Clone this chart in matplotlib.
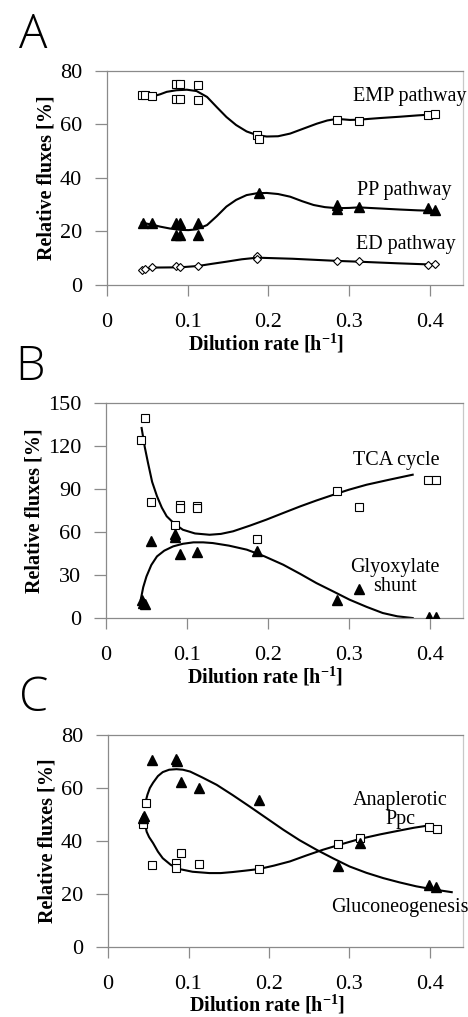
import matplotlib
matplotlib.use("Agg")
import matplotlib.pyplot as plt

plt.rcParams['font.family'] = ['Liberation Serif', 'DejaVu Serif']
plt.rcParams['mathtext.fontset'] = 'custom'
plt.rcParams['mathtext.rm'] = 'Liberation Serif'
plt.rcParams['mathtext.bf'] = 'Liberation Serif:bold'

# ---- panel A : EMP / PP / ED pathway ----
emp_x = [0.043, 0.047, 0.056, 0.085, 0.091, 0.085, 0.091, 0.113, 0.113, 0.186, 0.188, 0.285, 0.312, 0.398, 0.406]
emp_y = [71.2, 71.2, 70.6, 75.3, 75.3, 69.6, 69.6, 74.8, 69.3, 56.0, 54.7, 61.8, 61.3, 63.7, 64.0]
emp_cx = [0.043, 0.050, 0.058, 0.066, 0.074, 0.086, 0.099, 0.111, 0.124, 0.136, 0.148, 0.160, 0.173, 0.186, 0.198, 0.212, 0.227, 0.243, 0.260, 0.273, 0.285, 0.301, 0.312, 0.338, 0.363, 0.385, 0.406]
emp_cy = [71.2, 70.8, 70.6, 71.3, 72.2, 72.8, 73.0, 72.5, 70.3, 66.5, 62.8, 59.8, 57.4, 56.0, 55.5, 55.6, 56.6, 58.4, 60.3, 61.5, 62.1, 61.7, 61.8, 62.4, 62.9, 63.4, 63.8]

pp_x = [0.045, 0.056, 0.085, 0.091, 0.085, 0.091, 0.113, 0.113, 0.188, 0.285, 0.285, 0.312, 0.398, 0.406]
pp_y = [23.0, 23.0, 23.2, 23.2, 18.7, 18.7, 23.0, 18.7, 34.2, 29.9, 28.4, 29.3, 28.7, 28.0]
pp_cx = [0.043, 0.055, 0.066, 0.078, 0.091, 0.101, 0.111, 0.124, 0.136, 0.148, 0.160, 0.173, 0.186, 0.198, 0.212, 0.227, 0.242, 0.256, 0.270, 0.285, 0.300, 0.312, 0.338, 0.363, 0.385, 0.408]
pp_cy = [23.3, 22.6, 21.8, 21.1, 20.6, 20.5, 20.8, 22.4, 25.7, 29.3, 31.8, 33.6, 34.3, 34.4, 34.0, 33.0, 31.3, 29.9, 29.1, 28.7, 28.8, 29.0, 28.6, 28.2, 27.9, 27.7]

ed_x = [0.043, 0.047, 0.056, 0.085, 0.091, 0.113, 0.186, 0.186, 0.285, 0.312, 0.398, 0.406]
ed_y = [5.6, 5.8, 6.8, 7.2, 6.8, 7.2, 10.8, 9.8, 9.0, 9.1, 7.5, 7.8]
ed_cx = [0.043, 0.058, 0.091, 0.113, 0.130, 0.148, 0.167, 0.186, 0.230, 0.285, 0.312, 0.360, 0.406]
ed_cy = [5.6, 6.5, 6.6, 7.1, 7.9, 8.7, 9.6, 10.2, 9.8, 9.0, 8.7, 8.1, 7.6]

# ---- panel B : TCA cycle / glyoxylate shunt ----
tca_x = [0.043, 0.048, 0.056, 0.085, 0.091, 0.091, 0.113, 0.113, 0.186, 0.285, 0.313, 0.398, 0.408]
tca_y = [124.4, 139.5, 80.7, 65.1, 79.0, 76.7, 78.0, 76.5, 55.3, 88.4, 77.4, 96.5, 96.0]
tca_cx = [0.044, 0.048, 0.052, 0.057, 0.063, 0.069, 0.075, 0.085, 0.095, 0.110, 0.128, 0.142, 0.157, 0.178, 0.198, 0.220, 0.240, 0.260, 0.281, 0.300, 0.322, 0.350, 0.379]
tca_cy = [132.6, 119.0, 108.0, 95.0, 85.0, 77.0, 71.0, 65.5, 61.6, 59.0, 58.1, 58.7, 60.5, 64.5, 68.6, 73.5, 77.9, 82.0, 86.0, 89.5, 93.0, 96.5, 100.0]

gly_x = [0.044, 0.046, 0.048, 0.056, 0.085, 0.085, 0.091, 0.113, 0.187, 0.286, 0.313, 0.399, 0.408]
gly_y = [12.8, 10.5, 10.0, 53.5, 58.8, 56.5, 44.9, 45.8, 46.5, 12.8, 20.5, 0.7, 0.7]
gly_cx = [0.043, 0.046, 0.050, 0.056, 0.063, 0.072, 0.083, 0.095, 0.108, 0.120, 0.132, 0.152, 0.174, 0.196, 0.219, 0.240, 0.260, 0.281, 0.301, 0.322, 0.342, 0.360, 0.379]
gly_cy = [13.0, 21.5, 29.0, 37.0, 43.0, 47.0, 50.0, 51.8, 52.8, 52.8, 52.3, 50.5, 47.7, 43.0, 37.2, 30.8, 24.4, 18.5, 12.8, 7.8, 3.5, 1.2, 0.0]

# ---- panel C : anaplerotic Ppc / gluconeogenesis ----
glc_x = [0.0435, 0.045, 0.055, 0.084, 0.086, 0.091, 0.113, 0.187, 0.286, 0.313, 0.399, 0.408]
glc_y = [48.6, 49.5, 70.6, 70.9, 70.3, 62.4, 59.9, 55.3, 30.4, 39.4, 23.5, 22.5]
glc_cx = [0.046, 0.049, 0.052, 0.056, 0.062, 0.068, 0.076, 0.085, 0.093, 0.102, 0.117, 0.135, 0.155, 0.176, 0.197, 0.218, 0.238, 0.259, 0.280, 0.300, 0.321, 0.342, 0.362, 0.383, 0.405, 0.427]
glc_cy = [54.0, 57.5, 60.0, 62.0, 64.5, 66.0, 66.9, 67.1, 66.9, 66.2, 64.0, 61.2, 57.3, 53.0, 48.6, 44.2, 40.3, 36.7, 33.4, 30.4, 28.0, 26.0, 24.4, 22.9, 21.7, 20.7]

ppc_x = [0.0435, 0.047, 0.055, 0.084, 0.084, 0.091, 0.113, 0.187, 0.286, 0.313, 0.399, 0.409]
ppc_y = [46.5, 54.3, 30.8, 31.7, 30.0, 35.4, 31.2, 29.4, 38.9, 41.1, 45.2, 44.6]
ppc_cx = [0.0445, 0.046, 0.048, 0.051, 0.056, 0.062, 0.068, 0.078, 0.089, 0.105, 0.126, 0.140, 0.155, 0.170, 0.187, 0.206, 0.226, 0.246, 0.267, 0.290, 0.313, 0.338, 0.363, 0.380, 0.399]
ppc_cy = [49.5, 46.5, 43.5, 41.5, 39.2, 36.0, 33.5, 31.0, 29.4, 28.4, 27.9, 27.9, 28.3, 28.8, 29.4, 30.7, 32.3, 34.5, 36.7, 38.8, 40.8, 42.5, 44.0, 45.0, 45.9]

GRAY = '#8a8a8a'
fig = plt.figure(figsize=(4.68, 10.17), dpi=100)


def style_axes(ax, ymax, yticks):
    ax.set_xlim(0, 0.441)
    ax.set_ylim(0, ymax)
    ax.set_xticks([0, 0.1, 0.2, 0.3, 0.4])
    ax.set_xticklabels(['0', '0.1', '0.2', '0.3', '0.4'])
    ax.set_yticks(yticks)
    for s in ax.spines.values():
        s.set_color(GRAY)
        s.set_linewidth(0.9)
    ax.spines['right'].set_color('#c8c8c8')
    ax.tick_params(axis='x', direction='out', length=8, width=0.9, color=GRAY,
                   labelsize=16, pad=12)
    ax.tick_params(axis='y', direction='out', length=9, width=0.9, color=GRAY,
                   labelsize=16, pad=9)
    ax.set_ylabel('Relative fluxes [%]', fontsize=14.5, fontweight='bold', labelpad=2)
    ax.set_xlabel(r'Dilution rate [h$^{\mathbf{-1}}$]', fontsize=14.5,
                  fontweight='bold')
    ax.xaxis.set_label_coords(0.447, -0.215)


def open_sq(ax, x, y):
    ax.plot(x, y, ls='none', marker='s', ms=6, mfc='white', mec='black', mew=0.8,
            zorder=3)


def tri(ax, x, y):
    ax.plot(x, y, ls='none', marker='^', ms=6.5, mfc='black', mec='black', zorder=3)


# A
axA = fig.add_axes([0.2286, 0.7198, 0.7604, 0.2104])
axA.plot(emp_cx, emp_cy, color='black', lw=1.5)
axA.plot(pp_cx, pp_cy, color='black', lw=1.5)
axA.plot(ed_cx, ed_cy, color='black', lw=1.5)
open_sq(axA, emp_x, emp_y)
tri(axA, pp_x, pp_y)
axA.plot(ed_x, ed_y, ls='none', marker='D', ms=4, mfc='white', mec='black', mew=0.8, zorder=3)
style_axes(axA, 80, [0, 20, 40, 60, 80])
axA.text(0.305, 70.3, 'EMP pathway', fontsize=14.5, ha='left', va='center')
axA.text(0.31, 35.5, 'PP pathway', fontsize=14.5, ha='left', va='center')
axA.text(0.308, 15.0, 'ED pathway', fontsize=14.5, ha='left', va='center')

# B
axB = fig.add_axes([0.2265, 0.3923, 0.7625, 0.2114])
axB.plot(tca_cx, tca_cy, color='black', lw=1.5)
axB.plot(gly_cx, gly_cy, color='black', lw=1.5)
open_sq(axB, tca_x, tca_y)
tri(axB, gly_x, gly_y)
style_axes(axB, 150, [0, 30, 60, 90, 120, 150])
axB.text(0.305, 110, 'TCA cycle', fontsize=14.5, ha='left', va='center')
axB.text(0.357, 28.3, 'Glyoxylate\nshunt', fontsize=14.5, ha='center', va='center',
         linespacing=1.0)

# C
axC = fig.add_axes([0.2308, 0.0688, 0.7585, 0.2085])
axC.plot(glc_cx, glc_cy, color='black', lw=1.5)
axC.plot(ppc_cx, ppc_cy, color='black', lw=1.5)
open_sq(axC, ppc_x, ppc_y)
tri(axC, glc_x, glc_y)
style_axes(axC, 80, [0, 20, 40, 60, 80])
axC.text(0.363, 51.7, 'Anaplerotic\nPpc', fontsize=14.5, ha='center', va='center',
         linespacing=1.0)
axC.text(0.277, 15.1, 'Gluconeogenesis', fontsize=14.5, ha='left', va='center',
         clip_on=False)

# panel letters
for lab, px, py in [('A', 19, 48), ('B', 15, 380), ('C', 19, 711)]:
    fig.text(px / 468, 1 - py / 1017, lab, fontsize=34, family=['Open Sans', 'DejaVu Sans'],
             fontweight='light', ha='left', va='baseline')

fig.savefig('out.png', dpi=100)
